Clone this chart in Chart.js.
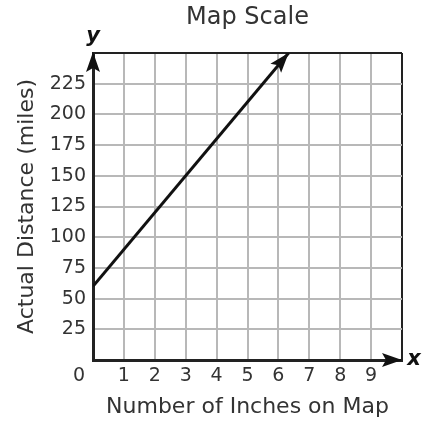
<!DOCTYPE html>
<html>
<head>
<meta charset="utf-8">
<script src="https://cdn.jsdelivr.net/npm/chart.js@4.4.1/dist/chart.umd.min.js"></script>
<style>
  body { margin: 0; background: #fff; }
  #wrap { width: 444px; height: 434px; }
</style>
</head>
<body>
<div id="wrap"><canvas id="myChart" width="444" height="434"></canvas></div>
<script>
// data
const inches = [0, 6.33];
const miles = [60, 250];
const xTicks = [1, 2, 3, 4, 5, 6, 7, 8, 9];
const yTicks = [25, 50, 75, 100, 125, 150, 175, 200, 225];

const chartTitle = "Map Scale";
const xTitle = "Number of Inches on Map";
const yTitle = "Actual Distance (miles)";

const FONT = "'DejaVu Sans', Verdana, sans-serif";
const INK = "#222";
const GRID = "#b8b8b8";

// arrows, title, the lone "0" and the x / y letters
const extras = {
  id: "extras",
  afterDraw(chart) {
    const { ctx, chartArea: a } = chart;
    const xs = chart.scales.x;
    const ys = chart.scales.y;

    const head = (x, y, ang, len, w) => {
      ctx.save();
      ctx.translate(x, y);
      ctx.rotate(ang);
      ctx.beginPath();
      ctx.moveTo(0, 0);
      ctx.lineTo(-len, -w / 2);
      ctx.lineTo(-len * 0.8, 0);
      ctx.lineTo(-len, w / 2);
      ctx.closePath();
      ctx.fillStyle = "#111";
      ctx.fill();
      ctx.restore();
    };

    // line arrow at the last point
    const pts = chart.getDatasetMeta(0).data;
    const p0 = pts[pts.length - 2];
    const p1 = pts[pts.length - 1];
    head(p1.x, p1.y, Math.atan2(p1.y - p0.y, p1.x - p0.x), 20, 14);

    // axis arrows
    head(xs.getPixelForValue(0), ys.getPixelForValue(250) - 1, -Math.PI / 2, 20, 14);
    head(xs.getPixelForValue(10), ys.getPixelForValue(0), 0, 20, 14);

    ctx.save();
    ctx.fillStyle = "#333";
    ctx.textAlign = "center";
    ctx.textBaseline = "middle";
    ctx.font = "24px " + FONT;
    ctx.fillText(chartTitle, (a.left + a.right) / 2, 18);

    ctx.font = "19px " + FONT;
    ctx.fillText("0", a.left - 14, a.bottom + 16);

    ctx.fillStyle = "#111";
    ctx.font = "italic bold 21px " + FONT;
    ctx.fillText("y", a.left, a.top - 16);
    ctx.fillText("x", a.right + 12, a.bottom);
    ctx.restore();
  },
};

const ctx = document.getElementById("myChart").getContext("2d");

const myChart = new Chart(ctx, {
  type: "scatter",
  data: {
    datasets: [
      {
        data: inches.map((x, i) => ({ x: x, y: miles[i] })),
        showLine: true,
        borderColor: "#111",
        borderWidth: 3,
        pointRadius: 0,
        tension: 0,
      },
    ],
  },
  options: {
    responsive: false,
    animation: false,
    layout: {
      padding: { top: 53, right: 42 },
    },
    plugins: {
      legend: false,
      tooltip: { enabled: false },
      title: { display: false },
    },
    scales: {
      x: {
        type: "linear",
        min: 0,
        max: 10,
        afterFit: (s) => { s.height = 74; },
        afterBuildTicks: (s) => {
          s.ticks = [0, ...xTicks, 10].map((v) => ({ value: v }));
        },
        ticks: {
          padding: 5,
          color: "#333",
          font: { family: FONT, size: 19 },
          callback: (v) => (xTicks.includes(v) ? String(v) : ""),
        },
        grid: {
          drawTicks: false,
          lineWidth: 2,
          color: (c) => (c.tick && c.tick.value === 10 ? INK : GRID),
        },
        border: { color: INK, width: 3 },
        title: {
          display: true,
          text: xTitle,
          color: "#333",
          font: { family: FONT, size: 22 },
          padding: { top: 4, bottom: 14 },
        },
      },
      y: {
        min: 0,
        max: 250,
        afterFit: (s) => { s.width = 93; },
        afterBuildTicks: (s) => {
          s.ticks = [0, ...yTicks, 250].map((v) => ({ value: v }));
        },
        ticks: {
          padding: 7,
          color: "#333",
          font: { family: FONT, size: 19 },
          callback: (v) => (yTicks.includes(v) ? String(v) : ""),
        },
        grid: {
          drawTicks: false,
          lineWidth: 2,
          color: (c) => (c.tick && c.tick.value === 250 ? INK : GRID),
        },
        border: { color: INK, width: 3 },
        title: {
          display: true,
          text: yTitle,
          color: "#333",
          font: { family: FONT, size: 22 },
          padding: { top: 14 },
        },
      },
    },
  },
  plugins: [extras],
});
</script>
</body>
</html>
